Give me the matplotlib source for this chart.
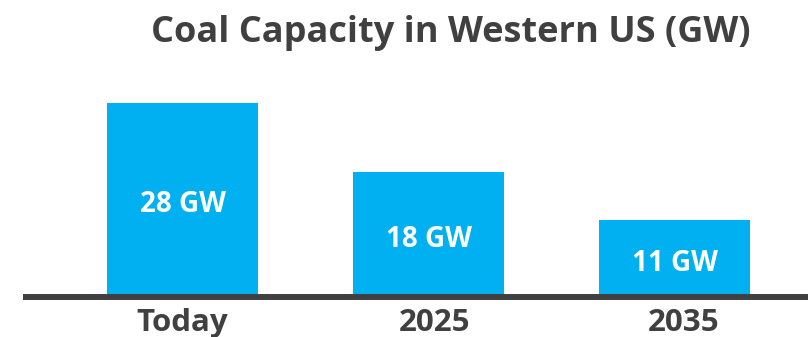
import matplotlib.pyplot as plt
from matplotlib.transforms import ScaledTranslation

# Coal capacity data
periods = ["Today", "2025", "2035"]
capacity_gw = [28, 18, 11]
bar_labels = ["28 GW", "18 GW", "11 GW"]

plt.rcParams['font.family'] = ['Open Sans', 'DejaVu Sans']

fig = plt.figure(figsize=(8.08, 3.37), dpi=100)
ax = fig.add_axes([23 / 808, 1 - 296.5 / 337, 1 - 23 / 808, 235 / 337])

x = range(len(periods))
bars = ax.bar(x, capacity_gw, width=0.615, color="#00B0F0", zorder=2)

# value labels near the middle of each bar
for b, lab in zip(bars, bar_labels):
    ax.text(b.get_x() + b.get_width() / 2, b.get_height() / 2 - 0.75, lab,
            ha="center", va="center", color="white", fontsize=20, fontweight="bold")

ax.set_xlim(-0.649, 2.542)
ax.set_ylim(0, 34.0)

for side in ["top", "right", "left"]:
    ax.spines[side].set_visible(False)
ax.spines["bottom"].set_color("#404040")
ax.spines["bottom"].set_linewidth(4.3)
ax.spines["bottom"].set_capstyle("butt")
ax.spines["bottom"].set_zorder(3)

ax.set_yticks([])
ax.set_xticks(list(x))
ax.set_xticklabels(periods, fontsize=22.5, fontweight="bold", color="#404040")
ax.tick_params(axis="x", length=0, pad=8)

# the year labels sit slightly right of their bars
for lab, dx in zip(ax.get_xticklabels(), [0, 6, 9]):
    lab.set_transform(lab.get_transform() + ScaledTranslation(dx / 100, 0, fig.dpi_scale_trans))

fig.text(451 / 808, 1 - 42 / 337, "Coal Capacity in Western US (GW)",
         ha="center", va="baseline", fontsize=26, fontweight="bold", color="#404040")

fig.savefig("out.png", dpi=100)
